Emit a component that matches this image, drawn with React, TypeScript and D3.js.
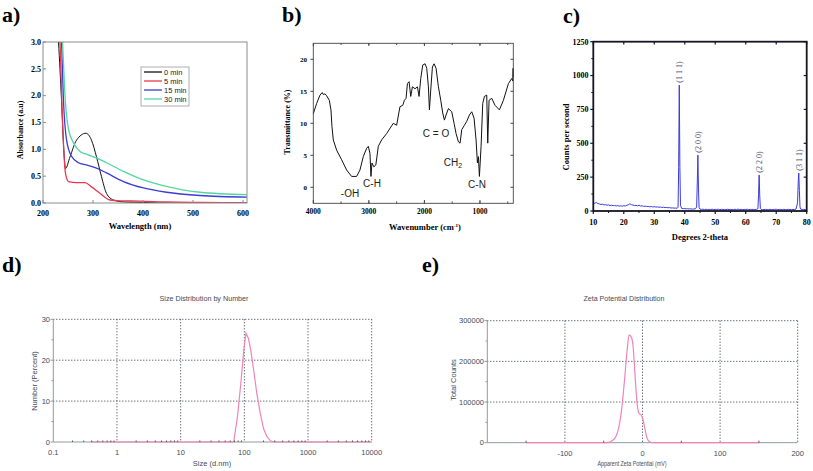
import React from 'react';
import * as d3 from 'd3';

// ---------- Panel a: UV-Vis ----------
const aXTicks = [200, 300, 400, 500, 600];
const aYTicks = [0, 0.5, 1.0, 1.5, 2.0, 2.5, 3.0];
const aLegend = ['0 min', '5 min', '15 min', '30 min'];
const aColors = ['#111111', '#e8384f', '#3c3cd6', '#52d6a0'];
const aWl0 = [229, 231, 237, 242, 245, 254, 267, 286, 297, 307, 317, 327, 341, 361, 400, 460, 540, 608];
const aAbs0 = [3.3, 3.0, 1.92, 0.93, 0.64, 0.86, 1.17, 1.30, 1.17, 0.86, 0.49, 0.18, 0.056, 0.02, 0.01, 0.0, 0.0, 0.0];
const aWl5 = [232, 234, 238, 242, 245, 251, 267, 284, 297, 314, 334, 354, 394, 447, 513, 608];
const aAbs5 = [3.3, 3.0, 1.8, 0.9, 0.55, 0.40, 0.38, 0.38, 0.30, 0.18, 0.056, 0.04, 0.035, 0.02, 0.01, 0.0];
const aWl15 = [235, 237, 241, 247, 257, 271, 287, 307, 327, 361, 401, 447, 514, 608];
const aAbs15 = [3.3, 3.0, 1.9, 1.18, 0.87, 0.75, 0.71, 0.65, 0.56, 0.40, 0.28, 0.20, 0.14, 0.11];
const aWl30 = [237, 239, 244, 251, 261, 274, 287, 307, 327, 361, 401, 447, 514, 608];
const aAbs30 = [3.3, 3.0, 2.0, 1.37, 1.12, 0.96, 0.91, 0.84, 0.75, 0.59, 0.43, 0.31, 0.20, 0.155];

// ---------- Panel b: FTIR ----------
const bXTicks = [4000, 3000, 2000, 1000];
const bYTicks = [0, 5, 10, 15, 20];
const bWn = [4000, 3940, 3880, 3840, 3820, 3790, 3760, 3712, 3682, 3664, 3640, 3580, 3490, 3400, 3310, 3220, 3160, 3100, 3040, 3010, 2980, 2962, 2944, 2910, 2874, 2830, 2770, 2680, 2560, 2500, 2440, 2390, 2360, 2330, 2306, 2276, 2246, 2216, 2168, 2126, 2096, 2066, 2030, 1988, 1958, 1928, 1910, 1886, 1856, 1826, 1790, 1748, 1706, 1670, 1640, 1610, 1568, 1508, 1466, 1430, 1388, 1358, 1328, 1280, 1238, 1190, 1148, 1106, 1070, 1046, 1028, 1010, 980, 950, 920, 878, 860, 836, 788, 728, 650, 578, 488, 428, 410, 403, 400];
const bT = [11.5, 13.1, 14.4, 14.8, 14.5, 14.6, 14.3, 13.6, 12.1, 9.5, 7.4, 5.8, 4.3, 2.7, 1.7, 1.7, 2.7, 4.8, 6.1, 6.4, 5.3, 1.7, 3.8, 3.2, 3.5, 6.4, 7.4, 8.4, 10.0, 9.7, 12.6, 12.8, 13.6, 13.9, 16.2, 16.5, 14.2, 15.7, 15.4, 15.7, 14.2, 17.0, 19.1, 19.3, 18.6, 15.7, 12.1, 15.2, 18.8, 19.3, 18.6, 15.7, 13.6, 11.6, 10.5, 11.3, 12.3, 11.8, 10.0, 8.4, 7.1, 6.9, 9.0, 9.7, 10.3, 11.3, 11.8, 10.8, 7.4, 3.8, 4.8, 1.7, 6.4, 13.1, 14.2, 14.4, 6.9, 13.6, 13.9, 12.8, 12.1, 13.6, 16.2, 17.0, 16.6, 18.6, 17.2];
const bNotes = ['-OH', 'C-H', 'C = O', 'CH', 'C-N'];

// ---------- Panel c: XRD ----------
const cXTicks = [10, 20, 30, 40, 50, 60, 70, 80];
const cYTicks = [0, 250, 500, 750, 1000, 1250];
const cPeakLabels = ['(1 1 1)', '(2 0 0)', '(2 2 0)', '(3 1 1)'];
const cPeakPos = [38.2, 44.3, 64.4, 77.4];
const cPeakTop = [930, 413, 266, 280];
const c2Theta = [10, 10.5, 11, 11.5, 12, 12.5, 13, 13.5, 14, 14.5, 15, 15.5, 16, 16.5, 17, 17.5, 18, 18.5, 19, 19.5, 20, 20.5, 21, 21.5, 22, 22.5, 23, 23.5, 24, 24.5, 25, 25.5, 26, 26.5, 27, 27.5, 28, 28.5, 29, 29.5, 30, 30.5, 31, 31.5, 32, 32.5, 33, 33.5, 34, 34.5, 35, 35.5, 36, 36.5, 37, 37.5, 37.8, 38.0, 38.2, 38.4, 38.6, 39, 39.5, 40, 40.5, 41, 41.5, 42, 42.5, 43, 43.5, 43.9, 44.1, 44.3, 44.5, 44.7, 45, 45.5, 46, 46.5, 47, 47.5, 48, 48.5, 49, 49.5, 50, 50.5, 51, 51.5, 52, 52.5, 53, 53.5, 54, 54.5, 55, 55.5, 56, 56.5, 57, 57.5, 58, 58.5, 59, 59.5, 60, 60.5, 61, 61.5, 62, 62.5, 63, 63.5, 64, 64.2, 64.4, 64.6, 64.8, 65, 65.5, 66, 66.5, 67, 67.5, 68, 68.5, 69, 69.5, 70, 70.5, 71, 71.5, 72, 72.5, 73, 73.5, 74, 74.5, 75, 75.5, 76, 76.5, 77, 77.2, 77.4, 77.6, 77.8, 78, 78.5, 79, 79.5, 80];
const cCounts = [50, 58, 62, 55, 52, 48, 50, 45, 47, 43, 45, 40, 43, 39, 41, 37, 40, 36, 38, 36, 39, 37, 42, 46, 53, 47, 44, 40, 42, 38, 43, 37, 38, 34, 36, 33, 34, 31, 33, 30, 32, 29, 30, 28, 29, 26, 28, 25, 26, 24, 25, 22, 23, 21, 22, 20, 28, 320, 930, 330, 40, 19, 17, 18, 16, 17, 15, 16, 14, 15, 16, 30, 200, 413, 170, 25, 14, 12, 13, 11, 13, 10, 12, 11, 13, 10, 12, 11, 13, 10, 12, 11, 12, 10, 13, 11, 12, 10, 11, 13, 10, 14, 11, 12, 10, 12, 11, 13, 10, 12, 11, 12, 10, 12, 18, 120, 266, 110, 18, 12, 10, 11, 12, 10, 11, 12, 10, 11, 12, 13, 10, 12, 11, 10, 12, 11, 10, 12, 11, 10, 12, 11, 14, 60, 200, 280, 150, 30, 14, 11, 12, 10, 11];

// ---------- Panel d: DLS size ----------
const dXTicks = [0.1, 1, 10, 100, 1000, 10000];
const dXLabels = ['0.1', '1', '10', '100', '1000', '10000'];
const dYTicks = [0, 10, 20, 30];
const dSize = [0.4, 1, 10, 50, 68, 78, 88, 98, 106, 116, 126, 140, 157, 178, 200, 227, 257, 290, 1000, 10000];
const dPct = [0, 0, 0, 0, 0, 6.2, 14.3, 22.5, 26.6, 25.3, 22.5, 17.6, 11.9, 7.0, 3.3, 1.3, 0.3, 0, 0, 0];

// ---------- Panel e: Zeta ----------
const eXTicks = [-100, 0, 100, 200];
const eYTicks = [0, 100000, 200000, 300000];
const eMv = [-150, -46, -37.8, -31.4, -27, -22.8, -19.8, -17.2, -14.2, -12.1, -9.5, -7.0, -4.4, -1.8, 0.8, 3.4, 6.0, 9.4, 12.9, 150];
const eCnt = [0, 0, 6600, 31000, 80000, 162000, 228000, 265000, 259000, 236000, 162000, 97000, 72000, 68000, 56000, 31000, 10700, 1600, 0, 0];

const SERIF = '"Liberation Serif", "Times New Roman", serif';
const SANS = '"Liberation Sans", Arial, sans-serif';
const SLATE = '#3e4c5e';
const PINK = '#f283b6';

function zip(xs: number[], ys: number[]): [number, number][] {
  return xs.map((x, i) => [x, ys[i]] as [number, number]);
}

function PanelA() {
  const x = d3.scaleLinear([200, 608], [43, 247]);
  const y = d3.scaleLinear([0, 3], [203, 42]);
  const line = d3.line<[number, number]>().x(d => x(d[0])).y(d => y(d[1])).curve(d3.curveMonotoneX);
  const series = [zip(aWl0, aAbs0), zip(aWl5, aAbs5), zip(aWl15, aAbs15), zip(aWl30, aAbs30)];
  return (
    <g>
      <defs>
        <clipPath id="clipA"><rect x={43} y={42} width={204} height={161} /></clipPath>
      </defs>
      <text x={2} y={22} fontFamily={SERIF} fontWeight="bold" fontSize={22}>a)</text>
      <g clipPath="url(#clipA)">
        {series.map((s, i) => (
          <path key={i} d={line(s) || ''} fill="none" stroke={aColors[i]} strokeWidth={i === 0 ? 1 : 1.3} />
        ))}
      </g>
      <rect x={43} y={42} width={204} height={161} fill="none" stroke="#8c8c8c" strokeWidth={1} />
      {aXTicks.map(t => (
        <g key={t}>
          <line x1={x(t)} x2={x(t)} y1={203} y2={200} stroke="#8c8c8c" />
          <text x={x(t)} y={216} textAnchor="middle" fontFamily={SERIF} fontWeight="bold" fontSize={8}>{t}</text>
        </g>
      ))}
      {aYTicks.map(t => (
        <g key={t}>
          <line x1={43} x2={46} y1={y(t)} y2={y(t)} stroke="#8c8c8c" />
          <text x={41} y={y(t) + 2.8} textAnchor="end" fontFamily={SERIF} fontWeight="bold" fontSize={8}>{t.toFixed(1)}</text>
        </g>
      ))}
      <text transform="translate(23,130) rotate(-90)" textAnchor="middle" fontFamily={SERIF} fontWeight="bold" fontSize={8}>Absorbance (a.u)</text>
      <text x={140} y={229} textAnchor="middle" fontFamily={SERIF} fontWeight="bold" fontSize={8.5}>Wavelength (nm)</text>
      <rect x={141} y={67} width={48} height={39} fill="#fff" stroke="#999" strokeWidth={0.8} />
      {aLegend.map((l, i) => (
        <g key={l}>
          <line x1={144} x2={162} y1={72 + i * 9} y2={72 + i * 9} stroke={aColors[i]} strokeWidth={1.3} />
          <text x={164} y={74.8 + i * 9} fontFamily={SANS} fontSize={7.5} fill="#222">{l}</text>
        </g>
      ))}
    </g>
  );
}

function PanelB() {
  const x = d3.scaleLinear([4000, 400], [313.3, 513.3]);
  const y = d3.scaleLinear([-2.5, 22.5], [203.3, 43.3]);
  const line = d3.line<[number, number]>().x(d => x(d[0])).y(d => y(d[1]));
  const minor = d3.range(3500, 399, -500);
  return (
    <g>
      <text x={282} y={22} fontFamily={SERIF} fontWeight="bold" fontSize={22}>b)</text>
      <path d={line(zip(bWn, bT)) || ''} fill="none" stroke="#111" strokeWidth={1} />
      <rect x={313.3} y={43.3} width={200} height={160} fill="none" stroke="#444" strokeWidth={0.9} />
      {bXTicks.map(t => (
        <g key={t}>
          <line x1={x(t)} x2={x(t)} y1={203.3} y2={200} stroke="#444" />
          <line x1={x(t)} x2={x(t)} y1={43.3} y2={46} stroke="#444" />
          <text x={x(t)} y={214} textAnchor="middle" fontFamily={SERIF} fontWeight="bold" fontSize={7.5}>{t}</text>
        </g>
      ))}
      {minor.map(t => (
        <g key={t}>
          <line x1={x(t)} x2={x(t)} y1={203.3} y2={201.5} stroke="#444" />
          <line x1={x(t)} x2={x(t)} y1={43.3} y2={45} stroke="#444" />
        </g>
      ))}
      {bYTicks.map(t => (
        <g key={t}>
          <line x1={310.5} x2={313.3} y1={y(t)} y2={y(t)} stroke="#444" />
          <line x1={513.3} x2={510.5} y1={y(t)} y2={y(t)} stroke="#444" />
          <text x={307} y={y(t) + 2.5} textAnchor="end" fontFamily={SERIF} fontWeight="bold" fontSize={7}>{t}</text>
        </g>
      ))}
      <text transform="translate(290,122) rotate(-90)" textAnchor="middle" fontFamily={SERIF} fontWeight="bold" fontSize={8}>Transmittance (%)</text>
      <text x={425} y={230} textAnchor="middle" fontFamily={SERIF} fontWeight="bold" fontSize={8.5}>
        <tspan>Wavenumber (cm</tspan><tspan dy={-3} fontSize={5}>-1</tspan><tspan dy={3}>)</tspan>
      </text>
      <text x={350} y={197} textAnchor="middle" fontFamily={SANS} fontSize={10} fill="#222">{bNotes[0]}</text>
      <text x={372} y={186.5} textAnchor="middle" fontFamily={SANS} fontSize={10} fill="#222">{bNotes[1]}</text>
      <text x={436} y={136.5} textAnchor="middle" fontFamily={SANS} fontSize={10} fill="#222">{bNotes[2]}</text>
      <text x={453} y={165.5} textAnchor="middle" fontFamily={SANS} fontSize={10} fill="#222">
        <tspan>{bNotes[3]}</tspan><tspan dy={2.5} fontSize={7}>2</tspan>
      </text>
      <text x={477} y={188} textAnchor="middle" fontFamily={SANS} fontSize={10} fill="#222">{bNotes[4]}</text>
    </g>
  );
}

function PanelC() {
  const x = d3.scaleLinear([10, 80], [593.3, 806.7]);
  const y = d3.scaleLinear([0, 1250], [211, 41.7]);
  const line = d3.line<[number, number]>().x(d => x(d[0])).y(d => y(d[1]));
  const minorX = d3.range(15, 80, 10);
  const minorY = d3.range(125, 1250, 250);
  return (
    <g>
      <text x={563} y={23} fontFamily={SERIF} fontWeight="bold" fontSize={22}>c)</text>
      <path d={line(zip(c2Theta, cCounts)) || ''} fill="none" stroke="#3b3bdc" strokeWidth={1} />
      <rect x={593.3} y={41.7} width={213.4} height={169.3} fill="none" stroke="#151525" strokeWidth={1.8} />
      {cXTicks.map(t => (
        <g key={t}>
          <line x1={x(t)} x2={x(t)} y1={211} y2={214} stroke="#151525" strokeWidth={1.2} />
          <line x1={x(t)} x2={x(t)} y1={41.7} y2={44.5} stroke="#151525" strokeWidth={1.2} />
          <text x={x(t)} y={225} textAnchor="middle" fontFamily={SERIF} fontWeight="bold" fontSize={8}>{t}</text>
        </g>
      ))}
      {minorX.map(t => (
        <line key={t} x1={x(t)} x2={x(t)} y1={211} y2={213} stroke="#151525" />
      ))}
      {cYTicks.map(t => (
        <g key={t}>
          <line x1={590.3} x2={593.3} y1={y(t)} y2={y(t)} stroke="#151525" strokeWidth={1.2} />
          <line x1={806.7} x2={803.7} y1={y(t)} y2={y(t)} stroke="#151525" strokeWidth={1.2} />
          <text x={588.5} y={y(t) + 2.8} textAnchor="end" fontFamily={SERIF} fontWeight="bold" fontSize={8}>{t}</text>
        </g>
      ))}
      {minorY.map(t => (
        <line key={t} x1={591.3} x2={593.3} y1={y(t)} y2={y(t)} stroke="#151525" />
      ))}
      {cPeakLabels.map((l, i) => (
        <text key={l} transform={`translate(${x(cPeakPos[i]) + 2.8},${y(cPeakTop[i]) - 13}) rotate(-90)`} textAnchor="middle" fontFamily={SERIF} fontSize={8} fill="#4a4a6a">{l}</text>
      ))}
      <text transform="translate(569,137) rotate(-90)" textAnchor="middle" fontFamily={SERIF} fontWeight="bold" fontSize={8.5}>Counts per second</text>
      <text x={700} y={240} textAnchor="middle" fontFamily={SERIF} fontWeight="bold" fontSize={8.5}>Degrees 2-theta</text>
    </g>
  );
}

function PanelD() {
  const x = d3.scaleLog([0.1, 10000], [53.3, 371.7]);
  const y = d3.scaleLinear([0, 30], [442, 319.3]);
  const line = d3.line<[number, number]>().x(d => x(d[0])).y(d => y(d[1]));
  const minorX: number[] = [];
  [0.1, 1, 10, 100, 1000].forEach(dec => { for (let k = 2; k <= 9; k++) minorX.push(dec * k); });
  const minorY = [5, 15, 25];
  return (
    <g>
      <text x={2} y={272} fontFamily={SERIF} fontWeight="bold" fontSize={22}>d)</text>
      <text x={204} y={300.5} textAnchor="middle" fontFamily={SANS} fontSize={7.5} fill={SLATE} textLength={89} lengthAdjust="spacingAndGlyphs">Size Distribution by Number</text>
      {dXTicks.slice(1).map(t => (
        <line key={t} x1={x(t)} x2={x(t)} y1={319.3} y2={442} stroke="#2a3440" strokeDasharray="1 2" strokeWidth={1} />
      ))}
      {dYTicks.slice(1).map(t => (
        <line key={t} x1={53.3} x2={371.7} y1={y(t)} y2={y(t)} stroke="#2a3440" strokeDasharray="1 2" strokeWidth={1} />
      ))}
      <line x1={53.3} x2={53.3} y1={319.3} y2={442} stroke="#8e9aa6" strokeWidth={1} />
      <line x1={53.3} x2={371.7} y1={442} y2={442} stroke="#8e9aa6" strokeWidth={1} />
      <path d={line(zip(dSize, dPct)) || ''} fill="none" stroke={PINK} strokeWidth={1.2} />
      {minorX.map(t => (
        <line key={t} x1={x(t)} x2={x(t)} y1={442} y2={440.5} stroke="#555" strokeWidth={1} />
      ))}
      {dYTicks.map(t => (
        <g key={t}>
          <line x1={50.5} x2={53.3} y1={y(t)} y2={y(t)} stroke="#8e9aa6" />
          <text x={50} y={y(t) + 2.6} textAnchor="end" fontFamily={SANS} fontSize={7.5} fill={SLATE}>{t}</text>
        </g>
      ))}
      {minorY.map(t => (
        <line key={t} x1={51.5} x2={53.3} y1={y(t)} y2={y(t)} stroke="#8e9aa6" />
      ))}
      {dXTicks.map((t, i) => (
        <text key={t} x={x(t)} y={454.5} textAnchor="middle" fontFamily={SANS} fontSize={7.5} fill={SLATE}>{dXLabels[i]}</text>
      ))}
      <text x={212} y={465.5} textAnchor="middle" fontFamily={SANS} fontSize={7.5} fill={SLATE}>Size (d.nm)</text>
      <text transform="translate(37,381) rotate(-90)" textAnchor="middle" fontFamily={SANS} fontSize={7.5} fill={SLATE}>Number (Percent)</text>
    </g>
  );
}

function PanelE() {
  const x = d3.scaleLinear([-200, 200], [487.3, 797.7]);
  const y = d3.scaleLinear([0, 300000], [442.7, 320.7]);
  const line = d3.line<[number, number]>().x(d => x(d[0])).y(d => y(d[1])).curve(d3.curveMonotoneX);
  const minorX = [-150, -50, 50, 150];
  const minorY = [50000, 150000, 250000];
  return (
    <g>
      <text x={422} y={272} fontFamily={SERIF} fontWeight="bold" fontSize={22}>e)</text>
      <text x={624} y={301} textAnchor="middle" fontFamily={SANS} fontSize={7.5} fill={SLATE} textLength={81} lengthAdjust="spacingAndGlyphs">Zeta Potential Distribution</text>
      {eXTicks.map(t => (
        <line key={t} x1={x(t)} x2={x(t)} y1={320.7} y2={442.7} stroke="#2a3440" strokeDasharray="1 2" strokeWidth={1} />
      ))}
      {eYTicks.slice(1).map(t => (
        <line key={t} x1={487.3} x2={797.7} y1={y(t)} y2={y(t)} stroke="#2a3440" strokeDasharray="1 2" strokeWidth={1} />
      ))}
      <line x1={487.3} x2={487.3} y1={320.7} y2={442.7} stroke="#8e9aa6" strokeWidth={1} />
      <line x1={487.3} x2={797.7} y1={442.7} y2={442.7} stroke="#8e9aa6" strokeWidth={1} />
      <path d={line(zip(eMv, eCnt)) || ''} fill="none" stroke={PINK} strokeWidth={1.2} />
      {minorX.map(t => (
        <line key={t} x1={x(t)} x2={x(t)} y1={442.7} y2={440.7} stroke="#555" />
      ))}
      {eYTicks.map(t => (
        <g key={t}>
          <line x1={484.5} x2={487.3} y1={y(t)} y2={y(t)} stroke="#8e9aa6" />
          <text x={484} y={y(t) + 2.6} textAnchor="end" fontFamily={SANS} fontSize={7.5} fill={SLATE}>{t}</text>
        </g>
      ))}
      {minorY.map(t => (
        <line key={t} x1={485.5} x2={487.3} y1={y(t)} y2={y(t)} stroke="#8e9aa6" />
      ))}
      {eXTicks.map(t => (
        <text key={t} x={x(t)} y={455.5} textAnchor="middle" fontFamily={SANS} fontSize={7.5} fill={SLATE}>{t}</text>
      ))}
      <text x={632} y={466} textAnchor="middle" fontFamily={SANS} fontSize={7.5} fill={SLATE} textLength={69} lengthAdjust="spacingAndGlyphs">Apparent Zeta Potential (mV)</text>
      <text transform="translate(455.5,380) rotate(-90)" textAnchor="middle" fontFamily={SANS} fontSize={7.5} fill={SLATE}>Total Counts</text>
    </g>
  );
}

export default function App() {
  return (
    <svg width={813} height={471} viewBox="0 0 813 471" style={{ position: 'absolute', left: 0, top: 0, display: 'block', background: '#fff' }}>
      <rect x={0} y={0} width={813} height={471} fill="#fff" />
      <PanelA />
      <PanelB />
      <PanelC />
      <PanelD />
      <PanelE />
    </svg>
  );
}
